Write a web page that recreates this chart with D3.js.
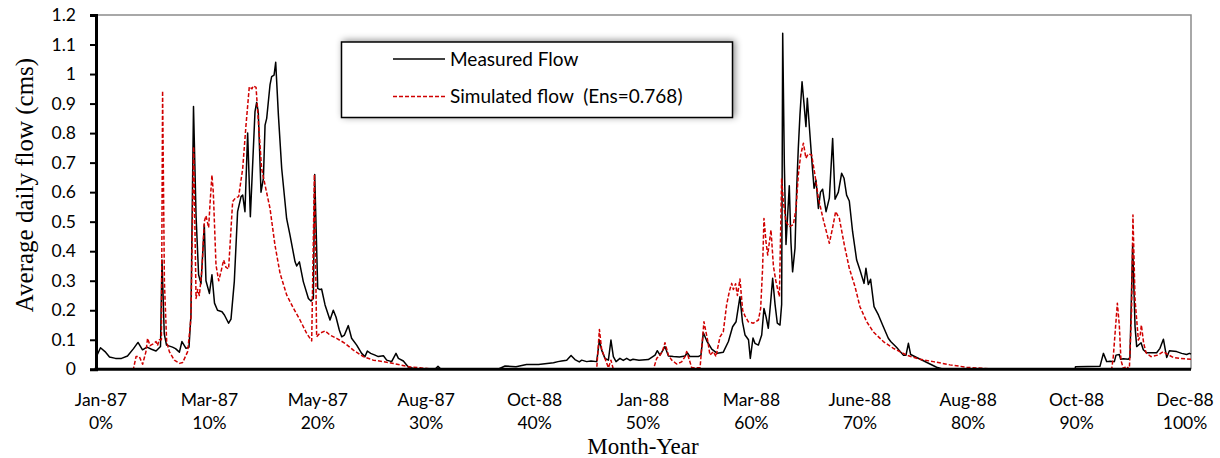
<!DOCTYPE html>
<html>
<head>
<meta charset="utf-8">
<script src="https://cdn.jsdelivr.net/npm/d3@7"></script>
<style>
  html, body { margin: 0; padding: 0; background: #fff; }
  svg { display: block; }
</style>
</head>
<body>
<div id="chart"></div>
<script>
// Daily flow, Jan 1987 to Dec 1988 (day index 0..730)
const measuredDays = [0,3,6,9,13,17,21,25,28,31,34,37,40,43,44,45.5,47,51,53,55.6,57.3,60,62,63.3,65,66.7,68.4,70,72.2,73.3,75.6,77.3,79,81,84,85.6,88.4,90,92.2,94.4,96.7,97.8,99.3,101.1,102.9,106,107.1,108.2,110,111.6,112.7,113.8,116,117.1,118.7,119.8,121.6,123.8,127.1,129.3,132.7,133.8,135.6,138.2,141.6,143.3,144.9,145.8,147.8,149.3,150.4,152.7,156,158.2,160,162.2,163.8,165.6,168.2,170.4,173.8,177.1,179.3,180.9,183.1,186,188.2,191.6,193.8,197.1,200,201.6,204.9,208.2,211.6,216,226,228,230,268,272.7,280,287,295,305,308,310.4,313.8,316.7,319.3,322.2,323.8,327.1,330,333.8,335.6,337.1,339.3,341.6,343.3,344.9,346.7,349.3,351.5,353.8,356,358,362,368.2,372.7,374.2,376,379.3,381.6,384.9,389,392.7,394.2,396,401.6,403.3,404.9,407.3,410.5,414.2,418.2,421.6,424.4,426.7,429.3,431,432.7,435,436.2,438,439.3,441.6,443.8,445.3,446.7,448.2,449.8,451.1,452.7,454.2,456,457.1,457.8,458.9,460,462.2,463.3,464.4,466,467.1,468.2,469.3,470.7,472,473.3,474.2,475.6,477.1,478.7,480,481.6,483,484.4,486.7,488.9,491.1,492.7,494.9,497.1,498.7,500.4,502.2,504.4,507.1,509.3,512,513.3,514.9,516.4,518.7,521.6,524.9,528.2,529.8,533.8,538.2,540,541.6,543.1,547.1,551.6,556,560.4,563.8,566,652.7,653,669.3,671.6,673.8,676,678.9,680,682.2,683.1,684.9,688.2,689.3,691.1,692.7,693.8,695.6,696.7,698.2,700.4,707.1,709.3,711.6,712.7,713.8,715.6,720.4,723.8,727.1,728.9,730];
const measuredFlow = [0.04,0.073,0.06,0.042,0.037,0.037,0.045,0.07,0.091,0.066,0.075,0.068,0.062,0.077,0.37,0.12,0.082,0.075,0.07,0.058,0.094,0.071,0.075,0.184,0.89,0.52,0.32,0.29,0.49,0.30,0.257,0.32,0.224,0.20,0.195,0.184,0.156,0.17,0.297,0.534,0.585,0.59,0.534,0.80,0.517,0.873,0.904,0.87,0.60,0.647,0.827,0.85,0.963,0.991,0.996,1.04,0.861,0.68,0.51,0.455,0.364,0.35,0.364,0.297,0.24,0.231,0.24,0.66,0.274,0.27,0.272,0.218,0.167,0.20,0.177,0.133,0.11,0.116,0.148,0.105,0.082,0.054,0.043,0.062,0.054,0.048,0.043,0.046,0.031,0.026,0.054,0.037,0.028,0.008,0.003,0,0,0.01,0,0,0.011,0.009,0.016,0.016,0.022,0.026,0.028,0.031,0.047,0.033,0.025,0.031,0.026,0.028,0.026,0.099,0.065,0.037,0.031,0.099,0.043,0.026,0.037,0.03,0.037,0.03,0.034,0.031,0.033,0.048,0.063,0.048,0.077,0.045,0.043,0.042,0.045,0.056,0.043,0.043,0.048,0.124,0.095,0.068,0.054,0.058,0.094,0.144,0.161,0.246,0.16,0.116,0.10,0.037,0.106,0.088,0.082,0.116,0.206,0.178,0.139,0.229,0.308,0.22,0.156,0.15,0.22,1.138,0.692,0.423,0.622,0.43,0.33,0.41,0.61,0.749,0.861,0.974,0.90,0.822,0.918,0.82,0.715,0.613,0.64,0.545,0.6,0.61,0.534,0.58,0.782,0.576,0.6,0.664,0.647,0.59,0.57,0.466,0.37,0.336,0.291,0.342,0.287,0.305,0.212,0.184,0.144,0.105,0.094,0.074,0.048,0.048,0.088,0.05,0.04,0.029,0.018,0.007,0.002,0,0,0.009,0.01,0.054,0.026,0.027,0.026,0.048,0.05,0.034,0.036,0.034,0.04,0.42,0.144,0.077,0.085,0.09,0.066,0.056,0.056,0.071,0.102,0.071,0.04,0.063,0.06,0.054,0.05,0.054,0.052];

const simulatedDays = [0,24.9,26.7,28.9,31.1,33.3,34.4,36,37.8,40,41,42.2,43.6,44.4,45.6,47.1,48.9,52.2,55.6,57.8,61.1,63.3,65.1,66.7,67.8,68.9,70.7,72.2,73.3,75.1,76,77.3,78.2,80,81.8,83.3,85.1,86.7,88.4,91.1,92.9,95.1,97.8,100,102.2,104,104.9,106.7,110.4,112.7,116,119.3,122.7,127.1,131.6,136,140.4,143.8,145.6,147.1,149.3,152.7,156,160.4,166,171.6,178.2,184.9,191.6,198.2,203.8,209.3,216,222,226,333.8,335.6,337.1,339.3,341.6,343.3,344.9,371.6,373.8,376,377.6,379.3,381.6,383.8,387.1,390.4,392.7,393.8,395.6,397.1,402.7,405.3,407.8,409.3,411.6,413.3,416,418.2,420.4,422.2,423.8,424.9,426.4,427.6,429.3,431.1,432.7,434.9,438.2,441.6,443.1,444.4,445.3,446.7,447.8,448.9,450,451.6,453.3,455.6,457.1,458.2,460,462.2,464.9,466.7,468.2,469.8,471.6,473.3,474.9,477.1,479.3,481.6,484.9,488.9,491.1,493.1,495.6,498.9,502.2,506,509.3,513.8,518.2,524.9,531.6,540.4,549.3,558.2,569.3,580.4,591.6,600,677.1,678.2,680.9,682.2,683.3,684.9,687.1,688.9,690.4,691.3,692.7,694.9,696,696.9,698.4,700,703.3,707.8,711.6,713.8,718.2,722.7,730];
const simulatedFlow = [0,0,0.043,0.043,0.017,0.06,0.105,0.08,0.085,0.094,0.08,0.1,0.1,0.943,0.297,0.094,0.06,0.031,0.02,0.023,0.06,0.173,0.754,0.24,0.27,0.25,0.342,0.50,0.52,0.48,0.56,0.658,0.6,0.353,0.30,0.33,0.37,0.345,0.34,0.568,0.58,0.585,0.68,0.827,0.957,0.95,0.96,0.955,0.68,0.624,0.545,0.421,0.325,0.252,0.207,0.167,0.122,0.096,0.66,0.11,0.122,0.13,0.116,0.105,0.088,0.065,0.043,0.031,0.026,0.02,0.014,0.008,0.005,0.002,0,0,0.135,0.068,0.037,0.005,0.031,0,0,0.037,0.048,0.06,0.09,0.048,0.031,0.018,0.025,0.043,0.06,0.031,0.006,0.005,0.161,0.097,0.048,0.06,0.043,0.11,0.127,0.218,0.263,0.291,0.27,0.29,0.25,0.306,0.2,0.18,0.161,0.156,0.167,0.206,0.342,0.511,0.43,0.387,0.43,0.472,0.35,0.297,0.246,0.647,0.57,0.50,0.483,0.49,0.545,0.658,0.726,0.766,0.715,0.73,0.726,0.658,0.58,0.506,0.427,0.48,0.534,0.51,0.421,0.342,0.28,0.212,0.161,0.127,0.094,0.071,0.048,0.034,0.026,0.015,0.007,0.003,0,0,0.043,0.224,0.15,0.031,0.003,0.01,0,0.2,0.523,0.235,0.099,0.11,0.15,0.09,0.056,0.043,0.048,0.06,0.052,0.04,0.037,0.034];

const monthLabels = ["Jan-87","Mar-87","May-87","Aug-87","Oct-88","Jan-88","Mar-88","June-88","Aug-88","Oct-88","Dec-88"];
const percentTicks = [0,10,20,30,40,50,60,70,80,90,100];
const yTicks = [0,0.1,0.2,0.3,0.4,0.5,0.6,0.7,0.8,0.9,1,1.1,1.2];
const seriesNames = ["Measured Flow", "Simulated flow  (Ens=0.768)"];

const W = 1220, H = 458;
const plot = { left: 96, top: 15, right: 1191, bottom: 369.3 };

const svg = d3.select("#chart").append("svg")
  .attr("width", W).attr("height", H);

const defs = svg.append("defs");
const shadow = defs.append("filter").attr("id", "legendShadow")
  .attr("x", "-10%").attr("y", "-30%").attr("width", "120%").attr("height", "160%");
shadow.append("feDropShadow")
  .attr("dx", 2).attr("dy", -1).attr("stdDeviation", 3.5)
  .attr("flood-color", "#000").attr("flood-opacity", 0.45);

const xDay = d3.scaleLinear().domain([0, 730]).range([plot.left, plot.right]);
const xPct = d3.scaleLinear().domain([0, 100]).range([101, 1185]);
const y = d3.scaleLinear().domain([0, 1.2]).range([plot.bottom, plot.top]);

// frame: thin grey top/right, heavy black left/bottom
svg.append("path")
  .attr("d", `M${plot.left},${plot.top}H${plot.right}V${plot.bottom}`)
  .attr("fill", "none").attr("stroke", "#8c8c8c").attr("stroke-width", 1.5);

const sans = "Lato, 'Open Sans', sans-serif";
const serif = "'Liberation Serif', 'DejaVu Serif', serif";

// y axis
const yAxis = svg.append("g").attr("transform", `translate(${plot.left},0)`)
  .call(d3.axisLeft(y).tickValues(yTicks).tickSize(6).tickPadding(14)
    .tickFormat(d => d3.format("")(+d.toFixed(1))));
yAxis.select(".domain").attr("stroke", "#000").attr("stroke-width", 3);
yAxis.selectAll(".tick line").attr("stroke", "#000").attr("stroke-width", 2);
yAxis.selectAll("text").attr("font-family", sans).attr("font-size", 17.5).attr("fill", "#000");

// x labels (month and percent)
const xl = svg.append("g");
percentTicks.forEach((p, i) => {
  const t = xl.append("text")
    .attr("x", xPct(p)).attr("text-anchor", "middle")
    .attr("font-family", sans).attr("font-size", 17.5).attr("fill", "#000");
  t.append("tspan").attr("x", xPct(p)).attr("y", 405.5).text(monthLabels[i]);
  t.append("tspan").attr("x", xPct(p)).attr("y", 428.5).text(p + "%");
});

// series
const measured = measuredDays.map((d, i) => [d, measuredFlow[i]]);
const simulated = simulatedDays.map((d, i) => [d, simulatedFlow[i]]);
const line = d3.line().x(d => xDay(d[0])).y(d => y(d[1]));

svg.append("path").datum(measured)
  .attr("d", line).attr("fill", "none")
  .attr("stroke", "#000").attr("stroke-width", 1.5).attr("stroke-linejoin", "round");

svg.append("path").datum(simulated)
  .attr("d", line).attr("fill", "none")
  .attr("stroke", "#d00000").attr("stroke-width", 1.5)
  .attr("stroke-dasharray", "4,2").attr("stroke-linejoin", "round");

// bottom axis line on top of series
svg.append("line")
  .attr("x1", plot.left - 1.5).attr("x2", plot.right)
  .attr("y1", plot.bottom).attr("y2", plot.bottom)
  .attr("stroke", "#000").attr("stroke-width", 3);

// axis titles
svg.append("text")
  .attr("x", 643).attr("y", 454)
  .attr("text-anchor", "middle")
  .attr("font-family", serif).attr("font-size", 23).attr("fill", "#000")
  .text("Month-Year");

svg.append("text")
  .attr("transform", `translate(33,185) rotate(-90)`)
  .attr("text-anchor", "middle")
  .attr("font-family", serif).attr("font-size", 25).attr("fill", "#000")
  .text("Average daily flow (cms)");

// legend
const lg = svg.append("g");
lg.append("rect")
  .attr("x", 341.5).attr("y", 42).attr("width", 391).attr("height", 75.5)
  .attr("fill", "#fff").attr("stroke", "#000").attr("stroke-width", 1.5)
  .attr("filter", "url(#legendShadow)");
const legendStyles = [
  { stroke: "#000", dash: null },
  { stroke: "#d00000", dash: "4,2" }
];
seriesNames.forEach((name, i) => {
  const ly = 59 + i * 37.5;
  lg.append("line")
    .attr("x1", 393).attr("x2", 445).attr("y1", ly).attr("y2", ly)
    .attr("stroke", legendStyles[i].stroke).attr("stroke-width", 1.5)
    .attr("stroke-dasharray", legendStyles[i].dash);
  lg.append("text")
    .attr("x", 450).attr("y", ly).attr("dy", "0.35em")
    .attr("font-family", sans).attr("font-size", 19).attr("fill", "#000")
    .attr("xml:space", "preserve").style("white-space", "pre")
    .text(name);
});
</script>
</body>
</html>
